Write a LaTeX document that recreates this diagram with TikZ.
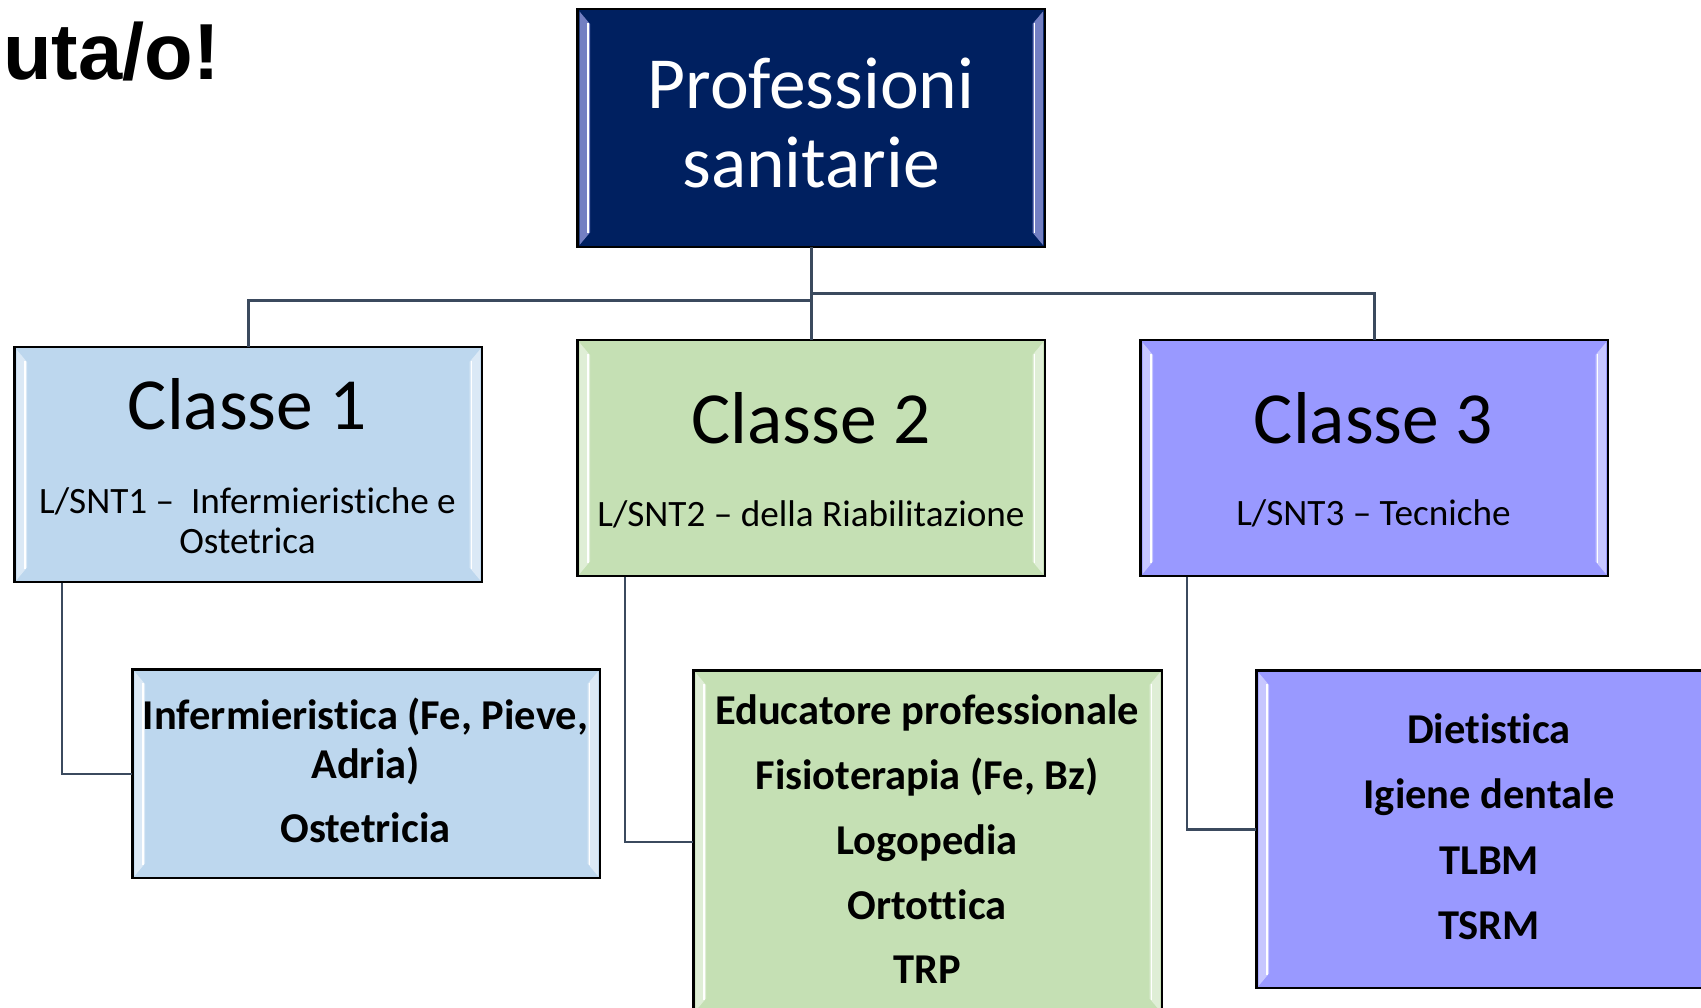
\documentclass[tikz,border=0pt]{standalone}
\usepackage{fontspec}
\setmainfont{Carlito}[Ligatures=NoCommon]
\newfontfamily\arialfont{Liberation Sans}
\usetikzlibrary{calc}
\definecolor{navy}{HTML}{002060}
\definecolor{lblue}{HTML}{BDD7EE}
\definecolor{lgreen}{HTML}{C5E0B4}
\definecolor{peri}{HTML}{9999FF}
\definecolor{connc}{HTML}{3B4A5E}
\newcommand\bevelbox[2]{%
  \fill[#2!55!white] ($(#1.north west)+(2.5,2.5)$) -- ($(#1.north west)+(13,15)$) -- ($(#1.south west)+(13,-15)$) -- ($(#1.south west)+(2.5,-2.5)$) -- cycle;
  \draw[white, line width=1.5pt] ($(#1.north west)+(11,14)$) -- ($(#1.south west)+(11,-14)$);
  \fill[#2!55!white] ($(#1.north east)+(-2.5,2.5)$) -- ($(#1.north east)+(-13,15)$) -- ($(#1.south east)+(-13,-15)$) -- ($(#1.south east)+(-2.5,-2.5)$) -- cycle;
  \draw[white, line width=1.5pt] ($(#1.north east)+(-11,14)$) -- ($(#1.south east)+(-11,-14)$);
  \draw[black, line width=1.5pt] (#1.north west) rectangle (#1.south east);
}
\tikzset{
  box/.style={draw=black, line width=1.5pt, rectangle, inner sep=0pt, anchor=north west},
  conn/.style={draw=connc, line width=2.5pt},
  txt/.style={anchor=base, inner sep=0pt, align=center},
  bigtxt/.style={txt, font=\fontsize{73.5}{79}\selectfont},
  subtxt/.style={txt, font=\fontsize{37.2}{40}\selectfont},
  listtxt/.style={txt, font=\bfseries\fontsize{42.5}{49}\selectfont},
}
\begin{document}
\begin{tikzpicture}[x=1pt,y=-1pt]
\useasboundingbox (0,0) rectangle (1701,1008);
\fill[white] (0,0) rectangle (1701,1008);

% boxes
\node[box, fill=navy, minimum width=467, minimum height=237] (top) at (577,9) {};
\node[box, fill=lblue, minimum width=467, minimum height=234] (c1) at (14,347) {};
\node[box, fill=lgreen, minimum width=467, minimum height=235] (c2) at (577,340) {};
\node[box, fill=peri, minimum width=467, minimum height=235] (c3) at (1140,340) {};
\node[box, fill=lblue, minimum width=467, minimum height=208] (ba) at (132,669) {};
\node[box, fill=lgreen, minimum width=468, minimum height=342] (bb) at (693,670) {};
\node[box, fill=peri, minimum width=467, minimum height=317] (bc) at (1256,670) {};

\bevelbox{top}{navy!70!blue}
\bevelbox{c1}{lblue}
\bevelbox{c2}{lgreen}
\bevelbox{c3}{peri}
\bevelbox{ba}{lblue}
\bevelbox{bb}{lgreen}
\bevelbox{bc}{peri}

% connectors
\draw[conn] (top.south) -- (c2.north);
\draw[conn] ($(top.south)+(0,53)$) -| (c1.north);
\draw[conn] ($(top.south)+(0,46)$) -| (c3.north);
\draw[conn] ($(c1.south west)+(48,0)$) |- (ba.west);
\draw[conn] ($(c2.south west)+(48,0)$) |- (bb.west);
\draw[conn] ($(c3.south west)+(47,0)$) |- (bc.west);

% texts
\node[anchor=base west, inner sep=0pt, font=\arialfont\bfseries\fontsize{79.5}{82}\selectfont] (title) at (3,80) {uta/o!};

\node[bigtxt, text=white] (ttop) at (811,188) {Professioni\\sanitarie};

\node[bigtxt] (t1) at (247.5,429) {Classe 1};
\node[subtxt] (s1) at (247.5,553) {L/SNT1 –\ \ Infermieristiche e\\Ostetrica};
\node[bigtxt] (t2) at (811,443) {Classe 2};
\node[subtxt] (s2) at (811,526) {L/SNT2 – della Riabilitazione};
\node[bigtxt] (t3) at (1373.5,443) {Classe 3};
\node[subtxt] (s3) at (1373.5,525) {L/SNT3 – Tecniche};

\node[listtxt] (la1) at (365.5,778) {Infermieristica (Fe, Pieve,\\Adria)};
\node[listtxt] (la2) at (365.5,842) {Ostetricia};

\node[listtxt] (lb1) at (927,724) {Educatore professionale};
\node[listtxt] (lb2) at (927,789) {Fisioterapia (Fe, Bz)};
\node[listtxt] (lb3) at (927,854) {Logopedia};
\node[listtxt] (lb4) at (927,919) {Ortottica};
\node[listtxt] (lb5) at (927,983) {TRP};

\node[listtxt] (lc1) at (1489,743) {Dietistica};
\node[listtxt] (lc2) at (1489,808) {Igiene dentale};
\node[listtxt] (lc3) at (1489,874) {TLBM};
\node[listtxt] (lc4) at (1489,939) {TSRM};
\end{tikzpicture}
\end{document}
